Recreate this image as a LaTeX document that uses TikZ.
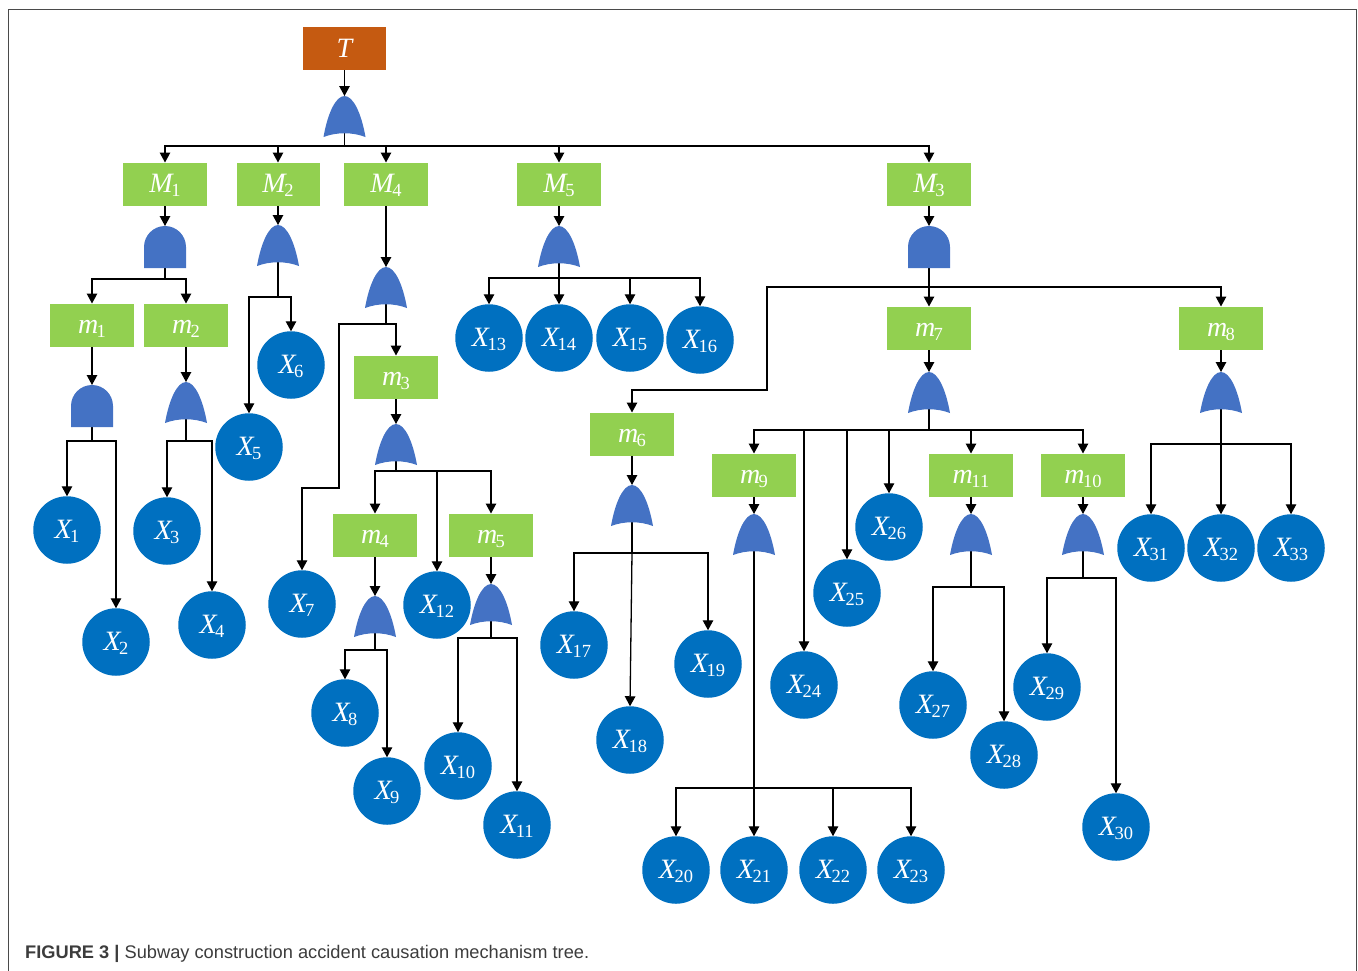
\documentclass[tikz,border=0pt]{standalone}
\usepackage{fontspec}
\setmainfont{Liberation Serif}
\newfontfamily\capfont{Liberation Sans}
\usetikzlibrary{arrows.meta,backgrounds}
\definecolor{topc}{HTML}{C55A11}
\definecolor{boxc}{HTML}{92D050}
\definecolor{gatec}{HTML}{4472C4}
\definecolor{circc}{HTML}{0070C0}
\definecolor{framec}{HTML}{4A4A4A}
\definecolor{capc}{HTML}{3C3C3C}
\newcommand{\lab}[2]{\raisebox{0pt}[0pt][0pt]{\raisebox{-8.5pt}{{\fontsize{28}{28}\selectfont\itshape #1}\kern-1.5pt\raisebox{-3.5pt}{\fontsize{18.5}{18.5}\selectfont #2}}}}
\tikzset{
  evbox/.style={fill=boxc,minimum width=84,minimum height=43,inner sep=0,outer sep=0,text=white},
  topbox/.style={fill=topc,minimum width=83,minimum height=43,inner sep=0,outer sep=0,text=white},
  basic/.style={circle,fill=circc,minimum size=67.5,inner sep=0,outer sep=0,text=white},
  gatebox/.style={minimum width=42,minimum height=42,inner sep=0,outer sep=0},
  arr/.style={draw=black,line width=1.3pt,-{Triangle[length=10pt,width=10.5pt]}},
}
\newcommand{\orgate}[3]{\node[gatebox] (#1) at (#2,#3) {};
  \fill[gatec,shift={(#2,#3)}] (-21,20) .. controls (-17,-3) and (-9,-21) .. (0,-21)
    .. controls (9,-21) and (17,-3) .. (21,20) .. controls (8,15) and (-8,15) .. cycle;}
\newcommand{\andgate}[3]{\node[gatebox] (#1) at (#2,#3) {};
  \fill[gatec,shift={(#2,#3)}] (-21,21) -- (-21,0) .. controls (-21,-11.6) and (-11.6,-21) .. (0,-21)
    .. controls (11.6,-21) and (21,-11.6) .. (21,0) -- (21,21) -- cycle;}
\newcommand{\evt}[4]{\node[evbox] (#1) at (#2,#3) {#4};}
\newcommand{\bev}[3]{\node[basic] (X#1) at (#2,#3) {\lab{X}{#1}};}
% drop from a gate centre to a bus at absolute height, then across and down to a target
\newcommand{\dropto}[3]{\draw[arr] (#1.center) -- (#1.center |- 0,#2) -| (#3.north);}
\begin{document}
\begin{tikzpicture}[x=1pt,y=-1pt]
\useasboundingbox (0,0) rectangle (1358,970);
\begin{scope}
\clip (0,0) rectangle (1358,970);
\draw[framec,line width=1pt] (8.5,9.5) rectangle (1356.5,1000);
\end{scope}
% events
\node[topbox] (T) at (344.5,48.5) {\raisebox{0pt}[0pt][0pt]{\raisebox{-8.5pt}{\fontsize{28}{28}\selectfont\itshape T}}};
\evt{M1}{165}{184}{\lab{M}{1}}
\node[evbox,minimum width=83] (M2) at (278,184) {\lab{M}{2}};
\evt{M4}{386}{184}{\lab{M}{4}}
\evt{M5}{559}{184}{\lab{M}{5}}
\evt{M3}{929}{184}{\lab{M}{3}}
\evt{m1}{92}{325}{\lab{m}{1}}
\evt{m2}{186}{325}{\lab{m}{2}}
\evt{m3}{396}{377}{\lab{m}{3}}
\evt{m4}{375}{535}{\lab{m}{4}}
\evt{m5}{491}{535}{\lab{m}{5}}
\evt{m6}{632}{434}{\lab{m}{6}}
\evt{m7}{929}{328}{\lab{m}{7}}
\evt{m8}{1221}{328}{\lab{m}{8}}
\evt{m9}{754}{475}{\lab{m}{9}}
\evt{m11}{971}{475}{\lab{m}{11}}
\evt{m10}{1083}{475}{\lab{m}{10}}
% gates
\orgate{gT}{344.5}{117}
\andgate{gM1}{165}{247}
\orgate{gM2}{278}{246}
\orgate{gM4}{386}{288}
\orgate{gM5}{559}{247}
\andgate{gM3}{929}{247}
\andgate{gm1}{92}{406}
\orgate{gm2}{186}{403}
\orgate{gm3}{396}{445}
\orgate{gm4}{375}{617}
\orgate{gm5}{491}{605}
\orgate{gm6}{632}{506}
\orgate{gm7}{929}{393}
\orgate{gm8}{1221}{393}
\orgate{gm9}{754}{535}
\orgate{gm11}{971}{535}
\orgate{gm10}{1083}{535}
% basic events
\bev{1}{67}{530}
\bev{2}{116}{642}
\bev{3}{167}{531}
\bev{4}{212}{625}
\bev{5}{249}{447}
\bev{6}{291}{365}
\bev{7}{302}{604}
\bev{8}{345}{713}
\bev{9}{387}{791}
\bev{10}{458}{766}
\bev{11}{517}{825}
\bev{12}{437}{605}
\bev{13}{489}{338}
\bev{14}{559}{338}
\bev{15}{630}{338}
\bev{16}{700}{340}
\bev{17}{574}{645}
\bev{18}{630}{740}
\bev{19}{708}{664}
\bev{20}{676}{870}
\bev{21}{754}{870}
\bev{22}{833}{870}
\bev{23}{911}{870}
\bev{24}{804}{685}
\bev{25}{847}{593}
\bev{26}{889}{527}
\bev{27}{933}{705}
\bev{28}{1004}{755}
\bev{29}{1047}{687}
\bev{30}{1116}{827}
\bev{31}{1151}{548}
\bev{32}{1221}{548}
\bev{33}{1291}{548}
% bends of the two long routes
\coordinate (b7a) at (339,324);
\coordinate (b7b) at (339,488);
\coordinate (b6a) at (767,287);
\coordinate (b6b) at (767,390);
\begin{scope}[on background layer]
\draw[arr] (T.south) -- (gT.north);
\foreach \t in {M1,M2,M4,M5,M3} {\dropto{gT}{146}{\t}}
\draw[arr] (M1.south) -- (gM1.north);
\draw[arr] (M2.south) -- (gM2.north);
\draw[arr] (M4.south) -- (gM4.north);
\draw[arr] (M5.south) -- (gM5.north);
\draw[arr] (M3.south) -- (gM3.north);
\foreach \t in {m1,m2} {\dropto{gM1}{279}{\t}}
\draw[arr] (m1.south) -- (gm1.north);
\draw[arr] (m2.south) -- (gm2.north);
\foreach \t in {X1,X2} {\dropto{gm1}{441}{\t}}
\foreach \t in {X3,X4} {\dropto{gm2}{441}{\t}}
\foreach \t in {X5,X6} {\dropto{gM2}{297}{\t}}
\draw[arr] (gM4.center) -- (gM4.center |- b7a) -- (b7a) -- (b7b) -| (X7.north);
\dropto{gM4}{324}{m3}
\draw[arr] (m3.south) -- (gm3.north);
\foreach \t in {m4,m5,X12} {\dropto{gm3}{471}{\t}}
\draw[arr] (m4.south) -- (gm4.north);
\draw[arr] (m5.south) -- (gm5.north);
\foreach \t in {X8,X9} {\dropto{gm4}{650}{\t}}
\foreach \t in {X10,X11} {\dropto{gm5}{638}{\t}}
\foreach \t in {X13,X14,X15,X16} {\dropto{gM5}{278}{\t}}
\foreach \t in {m7,m8} {\dropto{gM3}{287}{\t}}
\draw[arr] (gM3.center) -- (gM3.center |- b6a) -- (b6a) -- (b6b) -| (m6.north);
\draw[arr] (m6.south) -- (gm6.north);
\foreach \t in {X17,X19} {\dropto{gm6}{553}{\t}}
\draw[arr] (gm6.center) -- (gm6.center |- 0,553) -- (X18.north);
\draw[arr] (m7.south) -- (gm7.north);
\foreach \t in {m9,m11,m10,X24,X25,X26} {\dropto{gm7}{430}{\t}}
\draw[arr] (m8.south) -- (gm8.north);
\foreach \t in {X31,X32,X33} {\dropto{gm8}{444}{\t}}
\draw[arr] (m9.south) -- (gm9.north);
\draw[arr] (m11.south) -- (gm11.north);
\draw[arr] (m10.south) -- (gm10.north);
\foreach \t in {X20,X21,X22,X23} {\dropto{gm9}{788}{\t}}
\foreach \t in {X27,X28} {\dropto{gm11}{587}{\t}}
\foreach \t in {X29,X30} {\dropto{gm10}{578}{\t}}
\end{scope}
\node[anchor=base west,inner sep=0,text=capc] (cap) at (25,958.5) {\capfont\fontsize{18.25}{18.25}\selectfont\textbf{FIGURE 3 |} Subway construction accident causation mechanism tree.};
\end{tikzpicture}
\end{document}
